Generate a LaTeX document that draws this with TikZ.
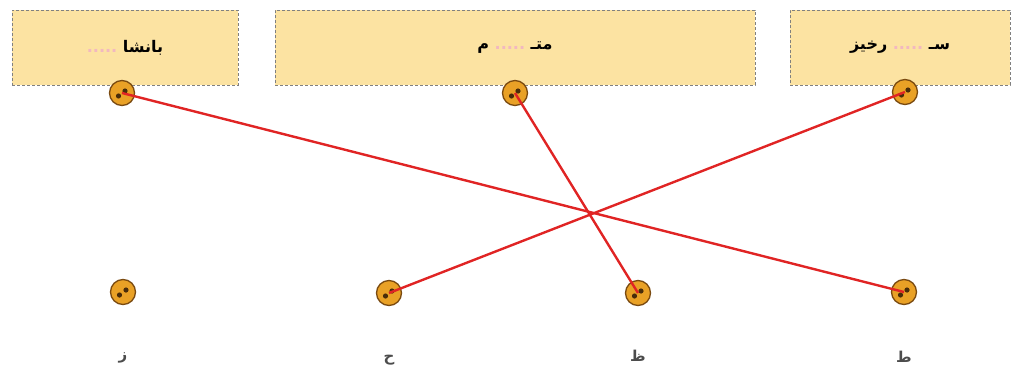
\documentclass[tikz,border=0pt]{standalone}
\usepackage{fontspec}
\newfontfamily\arabicfont[Script=Arabic]{DejaVu Sans}
\TeXXeTstate=1
\definecolor{boxfill}{HTML}{FCE3A2}
\definecolor{knobfill}{HTML}{E9A126}
\definecolor{knobedge}{HTML}{7A4A10}
\definecolor{wirered}{HTML}{E02424}
\definecolor{blank}{HTML}{F2B8C0}
\newcommand{\gap}{\textcolor{blank}{.....}}
\tikzset{
  wordbox/.style={draw=gray, densely dashed, fill=boxfill, minimum height=75pt, inner sep=0pt,
    font=\arabicfont\bfseries\fontsize{16}{18}\selectfont},
  knob/.style={circle, draw=knobedge, line width=1.3pt, fill=knobfill, minimum size=25pt, inner sep=0pt,
    path picture={
      \fill[knobedge!60!black] ([shift={(-3.5pt,-3pt)}]path picture bounding box.center) circle (2.6pt);
      \fill[knobedge!60!black] ([shift={(3pt,2pt)}]path picture bounding box.center) circle (2.6pt);
    }},
  letter/.style={font=\arabicfont\bfseries\fontsize{15}{17}\selectfont, text=black!70},
  match/.style={draw=wirered, line width=2.4pt}
}
\begin{document}
\begin{tikzpicture}[x=1pt,y=-1pt]
    \useasboundingbox (0,0) rectangle (1013,378);

    % word boxes (pieces set left to right by hand)
    \node[wordbox, minimum width=226pt] (t1) at (125,47.5) {\gap\ \beginR بانشا\endR};
    \node[wordbox, minimum width=480pt] (t2) at (515,47.5) {\beginR م\endR\ \gap\ \beginR متـ\endR};
    \node[wordbox, minimum width=220pt] (t3) at (900,47.5) {\beginR رخيز\endR\ \gap\ \beginR سـ\endR};

    % knobs
    \node[knob] (p1) at (122,93) {};
    \node[knob] (p2) at (515,93) {};
    \node[knob] (p3) at (905,92) {};
    \node[knob] (q1) at (123,292) {};
    \node[knob] (q2) at (389,293) {};
    \node[knob] (q3) at (638,293) {};
    \node[knob] (q4) at (904,292) {};

    % letters
    \node[letter] (l1) at (123,358) {\beginR ز\endR};
    \node[letter] (l2) at (389,360) {\beginR ح\endR};
    \node[letter] (l3) at (638,356) {\beginR ظ\endR};
    \node[letter] (l4) at (904,357) {\beginR ط\endR};

    % matches
    \draw[match] (p1.center) -- (q4.center);
    \draw[match] (p2.center) -- (q3.center);
    \draw[match] (p3.center) -- (q2.center);

\end{tikzpicture}
\end{document}
